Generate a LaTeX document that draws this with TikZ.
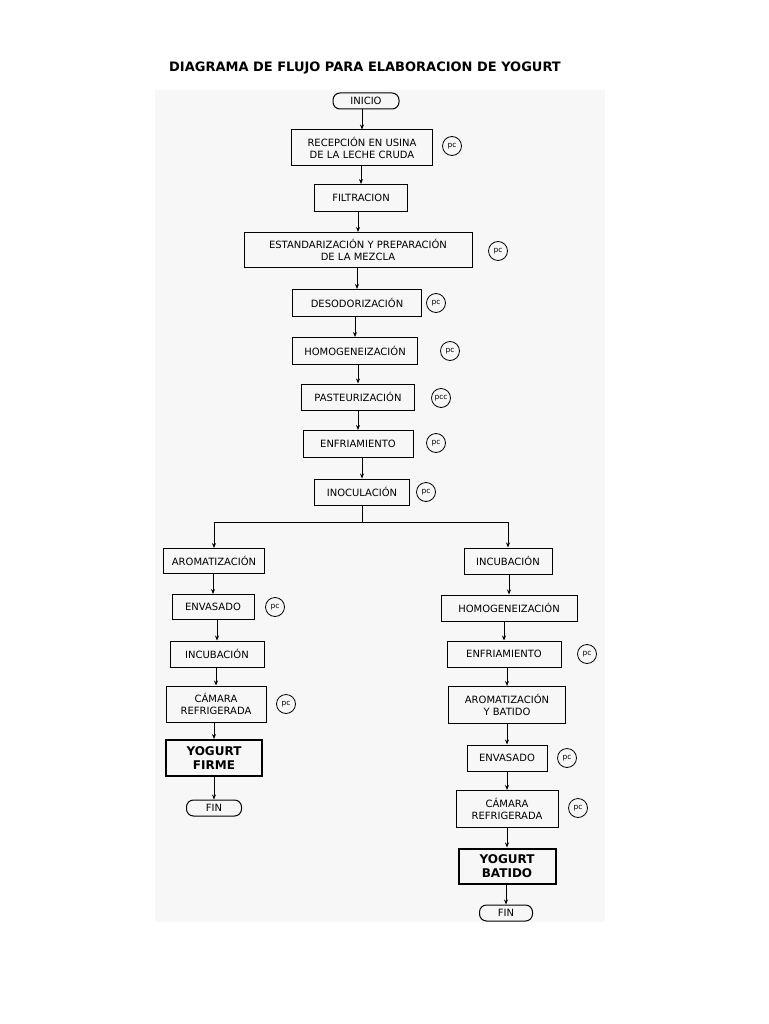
\documentclass[tikz,border=0pt]{standalone}
\usepackage{fontspec}
\setmainfont{DejaVu Sans}
\usetikzlibrary{arrows.meta}
\begin{document}
\begin{tikzpicture}[x=1pt,y=-1pt,
  box/.style={draw,line width=1pt,align=center,font=\fontsize{10}{12}\selectfont,inner sep=1pt},
  endbox/.style={draw,line width=2pt,align=center,font=\bfseries\fontsize{12}{14}\selectfont,inner sep=1pt},
  term/.style={draw,line width=1pt,rounded corners=7pt,font=\fontsize{10}{12}\selectfont,inner sep=0pt},
  pcn/.style={draw,line width=0.8pt,circle,minimum size=19pt,inner sep=0pt,font=\fontsize{7.5}{8}\selectfont},
  arr/.style={draw,line width=1pt,-{Stealth[length=5pt,width=4pt]}}]
\useasboundingbox (0,0) rectangle (768,1024);
\fill[black!3] (155,90) rectangle (605,922);
\node[font=\bfseries\fontsize{13}{15}\selectfont] (title) at (365,68) {DIAGRAMA DE FLUJO PARA ELABORACION DE YOGURT};
\newcommand{\bx}[6]{\node[#1,minimum width=#4pt,minimum height=#5pt] (#6) at (#2,#3)}
\bx{term}{366}{101}{66}{16}{ini} {INICIO};
\bx{box}{362}{148}{141}{36}{rec} {RECEPCIÓN EN USINA\\DE LA LECHE CRUDA};
\bx{box}{361}{198}{93}{27}{fil} {FILTRACION};
\bx{box}{358}{250}{228}{35}{est} {ESTANDARIZACIÓN Y PREPARACIÓN\\DE LA MEZCLA};
\bx{box}{357}{303}{129}{27}{des} {DESODORIZACIÓN};
\bx{box}{355}{351}{125}{27}{hom} {HOMOGENEIZACIÓN};
\bx{box}{358}{397}{113}{26}{pas} {PASTEURIZACIÓN};
\bx{box}{358}{444}{110}{27}{enf} {ENFRIAMIENTO};
\bx{box}{362}{492}{95}{26}{ino} {INOCULACIÓN};
% left
\bx{box}{214}{561}{101}{25}{laro} {AROMATIZACIÓN};
\bx{box}{213}{607}{82}{25}{lenv} {ENVASADO};
\bx{box}{217}{654}{94}{26}{linc} {INCUBACIÓN};
\bx{box}{216}{704}{100}{36}{lcam} {CÁMARA\\REFRIGERADA};
\bx{endbox}{214}{758}{96}{36}{lyog} {YOGURT\\FIRME};
\bx{term}{214}{808}{55}{16}{lfin} {FIN};
% right
\bx{box}{508}{561}{88}{26}{rinc} {INCUBACIÓN};
\bx{box}{509}{608}{136}{26}{rhom} {HOMOGENEIZACIÓN};
\bx{box}{504}{654}{114}{26}{renf} {ENFRIAMIENTO};
\bx{box}{507}{705}{117}{37}{raro} {AROMATIZACIÓN\\Y BATIDO};
\bx{box}{507}{758}{80}{26}{renv} {ENVASADO};
\bx{box}{507}{809}{102}{37}{rcam} {CÁMARA\\REFRIGERADA};
\bx{endbox}{507}{866}{97}{35}{ryog} {YOGURT\\BATIDO};
\bx{term}{506}{913}{53}{16}{rfin} {FIN};
% pc circles
\node[pcn] (p1) at (452,146) {pc};
\node[pcn] (p2) at (498,251) {pc};
\node[pcn] (p3) at (436,303) {pc};
\node[pcn] (p4) at (450,351) {pc};
\node[pcn] (p5) at (441,398) {pcc};
\node[pcn] (p6) at (436,443) {pc};
\node[pcn] (p7) at (426,492) {pc};
\node[pcn] (p8) at (275,607) {pc};
\node[pcn] (p9) at (286,704) {pc};
\node[pcn] (p10) at (587,654) {pc};
\node[pcn] (p11) at (567,758) {pc};
\node[pcn] (p12) at (578,808) {pc};
% arrows
\foreach \a/\b in {ini/rec,rec/fil,fil/est,est/des,des/hom,hom/pas,pas/enf,enf/ino,
  laro/lenv,lenv/linc,linc/lcam,lcam/lyog,lyog/lfin,
  rinc/rhom,rhom/renf,renf/raro,raro/renv,renv/rcam,rcam/ryog,ryog/rfin}
  \path[arr] (\a.south -| \b.north) -- (\b.north);
\coordinate (bj) at (362,522);
\draw[line width=1pt] (ino.south) -- (bj);
\draw[line width=1pt] (laro.north |- bj) -- (rinc.north |- bj);
\path[arr] (laro.north |- bj) -- (laro.north);
\path[arr] (rinc.north |- bj) -- (rinc.north);
\end{tikzpicture}
\end{document}
